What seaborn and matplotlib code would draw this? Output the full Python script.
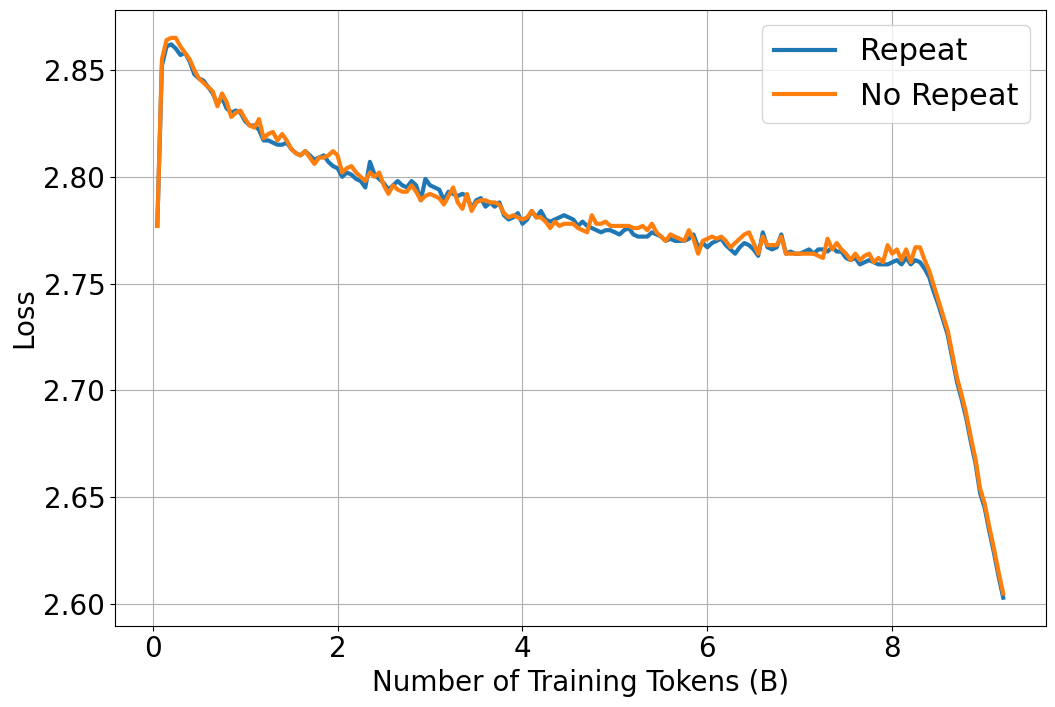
import numpy as np
import pandas as pd
import seaborn as sns
import matplotlib.pyplot as plt

# Шаг по токенам (млрд)
tokens = np.round(np.arange(1, 185) * 0.05, 2)

# Repeat
loss_repeat = [
    2.777, 2.852, 2.861, 2.862, 2.860, 2.857, 2.858, 2.854, 2.848, 2.846,
    2.845, 2.842, 2.839, 2.834, 2.837, 2.832, 2.830, 2.831, 2.830, 2.826,
    2.824, 2.824, 2.822, 2.817, 2.817, 2.816, 2.815, 2.815, 2.816, 2.813,
    2.811, 2.810, 2.812, 2.810, 2.808, 2.809, 2.810, 2.807, 2.805, 2.804,
    2.800, 2.802, 2.801, 2.799, 2.798, 2.795, 2.807, 2.801, 2.799, 2.797,
    2.794, 2.796, 2.798, 2.796, 2.795, 2.798, 2.796, 2.789, 2.799, 2.796,
    2.795, 2.794, 2.789, 2.793, 2.792, 2.791, 2.792, 2.791, 2.785, 2.789,
    2.790, 2.786, 2.788, 2.786, 2.788, 2.782, 2.780, 2.781, 2.783, 2.778,
    2.780, 2.784, 2.781, 2.784, 2.780, 2.779, 2.780, 2.781, 2.782, 2.781,
    2.780, 2.777, 2.779, 2.777, 2.776, 2.775, 2.774, 2.775, 2.775, 2.774,
    2.773, 2.775, 2.776, 2.773, 2.772, 2.772, 2.772, 2.774, 2.773, 2.772,
    2.770, 2.771, 2.770, 2.770, 2.770, 2.771, 2.773, 2.767, 2.769, 2.767,
    2.769, 2.770, 2.771, 2.768, 2.766, 2.764, 2.767, 2.769, 2.768, 2.766,
    2.763, 2.774, 2.767, 2.766, 2.767, 2.773, 2.764, 2.765, 2.764, 2.764,
    2.765, 2.766, 2.764, 2.766, 2.766, 2.765, 2.767, 2.765, 2.765, 2.762,
    2.761, 2.762, 2.759, 2.760, 2.761, 2.760, 2.759, 2.759, 2.759, 2.760,
    2.761, 2.759, 2.762, 2.759, 2.761, 2.760, 2.757, 2.753, 2.746, 2.740,
    2.733, 2.726, 2.715, 2.704, 2.696, 2.687, 2.676, 2.666, 2.652, 2.645,
    2.634, 2.624, 2.613, 2.603,
]

# No Repeat
loss_no_repeat = [
    2.777, 2.855, 2.864, 2.865, 2.865, 2.861, 2.858, 2.855, 2.850, 2.846,
    2.844, 2.842, 2.840, 2.833, 2.839, 2.835, 2.828, 2.830, 2.831, 2.827,
    2.824, 2.823, 2.827, 2.818, 2.820, 2.821, 2.817, 2.820, 2.817, 2.813,
    2.811, 2.810, 2.812, 2.809, 2.806, 2.809, 2.809, 2.810, 2.812, 2.810,
    2.802, 2.804, 2.805, 2.802, 2.800, 2.798, 2.802, 2.800, 2.802, 2.796,
    2.792, 2.796, 2.794, 2.793, 2.793, 2.796, 2.793, 2.789, 2.791, 2.792,
    2.791, 2.790, 2.787, 2.791, 2.795, 2.788, 2.785, 2.792, 2.784, 2.788,
    2.789, 2.789, 2.788, 2.788, 2.787, 2.783, 2.781, 2.782, 2.781, 2.780,
    2.781, 2.784, 2.781, 2.781, 2.779, 2.776, 2.779, 2.777, 2.778, 2.778,
    2.778, 2.776, 2.775, 2.774, 2.782, 2.778, 2.778, 2.779, 2.777, 2.777,
    2.777, 2.777, 2.777, 2.776, 2.776, 2.777, 2.775, 2.778, 2.774, 2.772,
    2.770, 2.773, 2.772, 2.771, 2.770, 2.775, 2.771, 2.764, 2.770, 2.771,
    2.772, 2.771, 2.772, 2.770, 2.767, 2.769, 2.771, 2.773, 2.774, 2.769,
    2.764, 2.772, 2.768, 2.768, 2.768, 2.772, 2.764, 2.764, 2.764, 2.764,
    2.764, 2.764, 2.764, 2.763, 2.762, 2.771, 2.766, 2.769, 2.766, 2.764,
    2.761, 2.764, 2.761, 2.763, 2.764, 2.760, 2.762, 2.760, 2.768, 2.764,
    2.766, 2.761, 2.766, 2.760, 2.767, 2.767, 2.761, 2.756, 2.749, 2.742,
    2.735, 2.728, 2.717, 2.706, 2.698, 2.689, 2.678, 2.668, 2.654, 2.647,
    2.636, 2.626, 2.615, 2.605,
]

series_names = ['Repeat', 'No Repeat']

df = pd.concat([
    pd.DataFrame({'tokens': tokens, 'loss': loss_repeat, 'run': series_names[0]}),
    pd.DataFrame({'tokens': tokens, 'loss': loss_no_repeat, 'run': series_names[1]}),
])

fig, ax = plt.subplots(figsize=(10.55, 7.07), dpi=100)
sns.lineplot(data=df, x='tokens', y='loss', hue='run', hue_order=series_names,
             palette=['#1f77b4', '#ff7f0e'], estimator=None, linewidth=3, ax=ax)
ax.grid(True)
ax.set_xlabel('Number of Training Tokens (B)', fontsize=20)
ax.set_ylabel('Loss', fontsize=20)
ax.tick_params(labelsize=20)
sns.move_legend(ax, 'upper right', title=None, fontsize=22)
plt.subplots_adjust(left=0.109, right=0.991, top=0.986, bottom=0.115)
plt.savefig('out.png')
